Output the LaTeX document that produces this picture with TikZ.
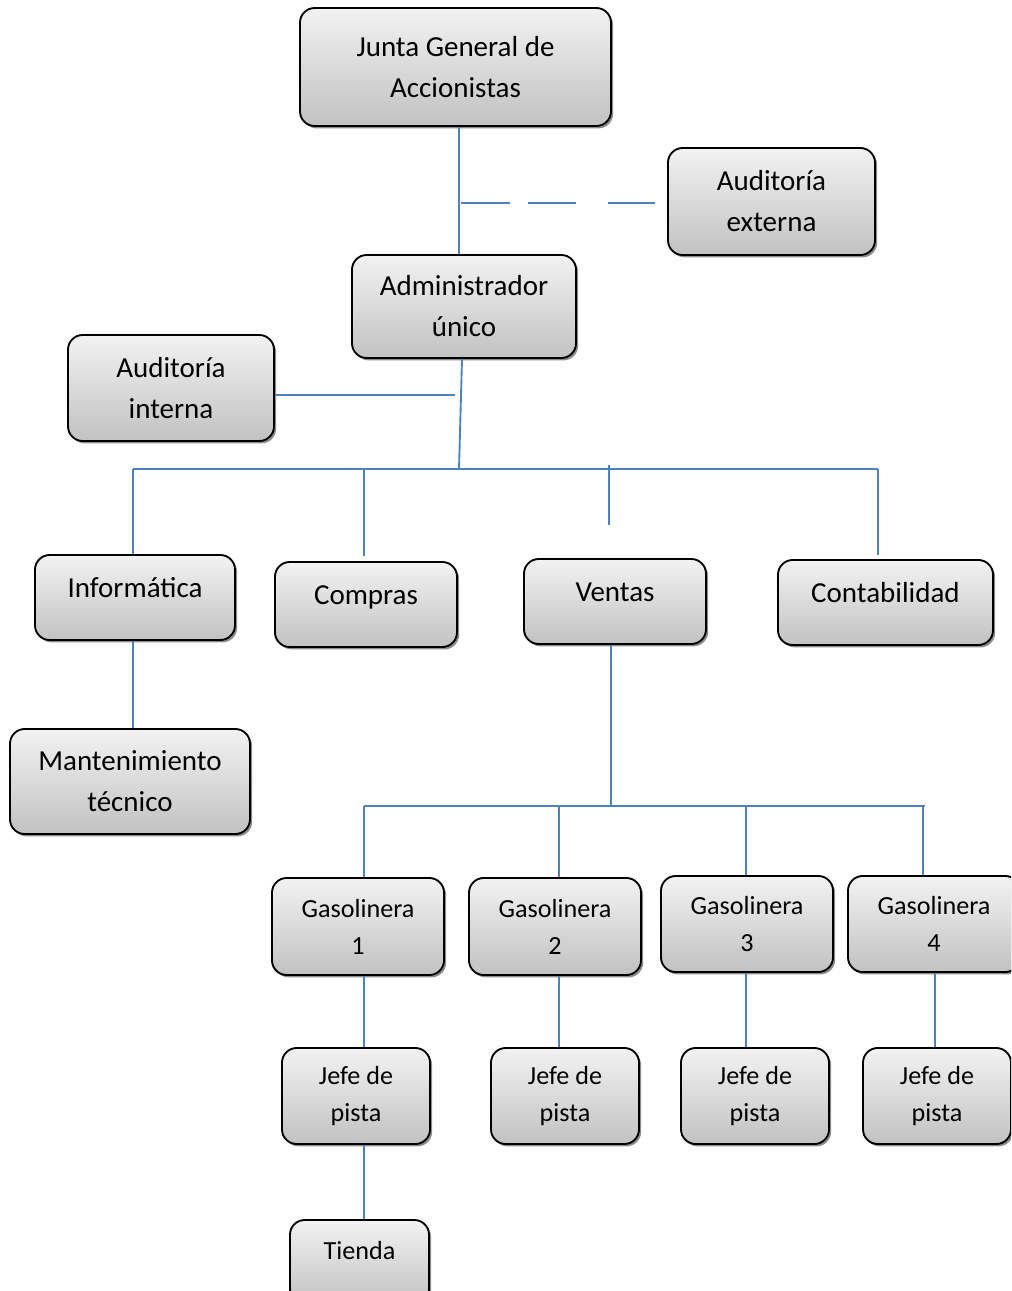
\documentclass[tikz,border=0pt]{standalone}
\usepackage{fontspec}
\setmainfont{Carlito}
\usetikzlibrary{shadows}
\definecolor{lineblue}{HTML}{4F81BD}
\tikzset{
  box/.style 2 args={draw=black, line width=1.4pt, rounded corners=11pt,
    top color=black!5, bottom color=black!24, align=center, inner sep=2pt,
    minimum width=#1*0.75pt, minimum height=#2*0.75pt,
    drop shadow={shadow xshift=1.6pt, shadow yshift=-1.8pt, fill=black, opacity=0.45}},
  big/.style={font=\fontsize{21.75pt}{30.75pt}\selectfont},
  small/.style={font=\fontsize{19.6pt}{27.75pt}\selectfont},
  oneline/.style={text height=15.5pt, text depth=16pt},
  oneline small/.style={text height=14pt, text depth=18pt},
  conn/.style={draw=lineblue, line width=1.4pt},
}
\begin{document}
\begin{tikzpicture}[x=0.75pt, y=-0.75pt]
\useasboundingbox (0,0) rectangle (1011,1291);
\clip (0,0) rectangle (1011,1291);
% nodes
\node[box={311}{118}, big] (junta) at (455.5,67) {Junta General de\\Accionistas};
\node[box={207}{107}, big] (audext) at (771.5,201.5) {Auditoría\\externa};
\node[box={224}{103}, big] (admin) at (464,306.5) {Administrador\\único};
\node[box={206}{106}, big] (audint) at (171,388) {Auditoría\\interna};
\node[box={200}{85}, big, oneline] (info) at (135,597.5) {Informática};
\node[box={182}{85}, big, oneline] (compras) at (366,604.5) {Compras};
\node[box={182}{85}, big, oneline] (ventas) at (615,601.5) {Ventas};
\node[box={215}{85}, big, oneline] (conta) at (885.5,602.5) {Contabilidad};
\node[box={240}{105}, big] (mant) at (130,781.5) {Mantenimiento\\técnico};
\node[box={172}{97}, small] (gas1) at (358,926.5) {Gasolinera\\1};
\node[box={172}{97}, small] (gas2) at (555,926.5) {Gasolinera\\2};
\node[box={172}{96}, small] (gas3) at (747,924) {Gasolinera\\3};
\node[box={172}{96}, small] (gas4) at (934,924) {Gasolinera\\4};
\node[box={148}{96}, small] (jefe1) at (356,1096) {Jefe de\\pista};
\node[box={148}{96}, small] (jefe2) at (565,1096) {Jefe de\\pista};
\node[box={148}{96}, small] (jefe3) at (755,1096) {Jefe de\\pista};
\node[box={148}{96}, small] (jefe4) at (937,1096) {Jefe de\\pista};
\node[box={139}{84}, small, oneline small] (tienda) at (359.5,1262) {Tienda};
% coordinates
\coordinate (xj) at (459,0);
\coordinate (xa) at (462,0);
\coordinate (dash) at (461,203);
\coordinate (busA) at (459,469);
\coordinate (intEnd) at (455,395);
\coordinate (busL) at (133,469);
\coordinate (busR) at (878,469);
\coordinate (cTop) at (364,469);
\coordinate (cBot) at (364,556);
\coordinate (vTop) at (609,465);
\coordinate (vBot) at (609,525);
\coordinate (kBot) at (878,555);
\coordinate (xv) at (611,0);
\coordinate (bus2) at (611,806);
\coordinate (b2L) at (364,806);
\coordinate (b2R) at (925,806);
\coordinate (g2t) at (559,806);
\coordinate (g3t) at (746,806);
\coordinate (g4t) at (923,806);
\coordinate (x1) at (364,0);
\coordinate (x2) at (559,0);
\coordinate (x3) at (746,0);
\coordinate (x4) at (935,0);
\coordinate (xi) at (133,0);
% connectors
\draw[conn] (junta.south -| xj) -- (admin.north -| xj);
\draw[conn, dash pattern=on 36.75pt off 13.5pt on 36pt off 24pt on 35.25pt off 20pt] (dash) -- (audext.west |- dash);
\draw[conn] (admin.south -| xa) -- (busA);
\draw[conn] (audint.east |- intEnd) -- (intEnd);
\draw[conn] (busL) -- (busR);
\draw[conn] (busL) -- (info.north -| busL);
\draw[conn] (cTop) -- (cBot);
\draw[conn] (vTop) -- (vBot);
\draw[conn] (busR) -- (kBot);
\draw[conn] (info.south -| xi) -- (mant.north -| xi);
\draw[conn] (ventas.south -| xv) -- (bus2);
\draw[conn] (b2L) -- (b2R);
\draw[conn] (b2L) -- (gas1.north -| b2L);
\draw[conn] (g2t) -- (gas2.north -| g2t);
\draw[conn] (g3t) -- (gas3.north -| g3t);
\draw[conn] (g4t) -- (gas4.north -| g4t);
\draw[conn] (gas1.south -| x1) -- (jefe1.north -| x1);
\draw[conn] (gas2.south -| x2) -- (jefe2.north -| x2);
\draw[conn] (gas3.south -| x3) -- (jefe3.north -| x3);
\draw[conn] (gas4.south -| x4) -- (jefe4.north -| x4);
\draw[conn] (jefe1.south -| x1) -- (tienda.north -| x1);
\end{tikzpicture}
\end{document}
